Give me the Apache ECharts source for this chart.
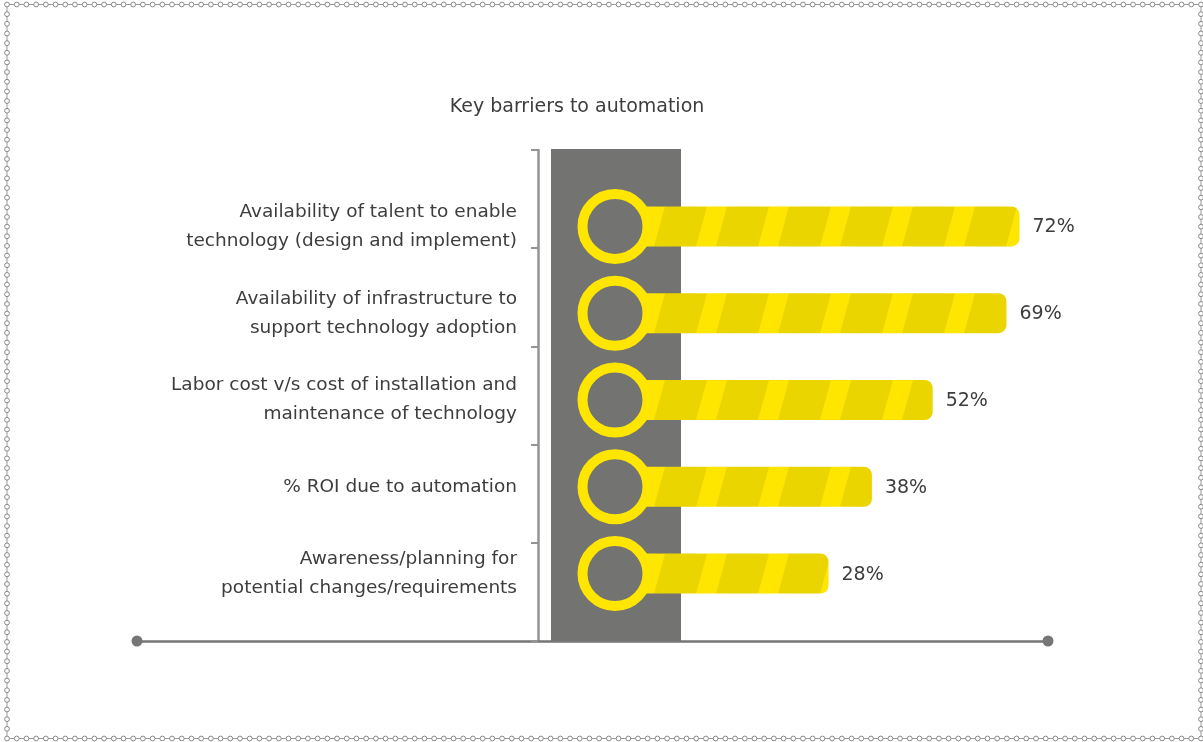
<!DOCTYPE html>
<html>
<head>
<meta charset="utf-8">
<script src="https://cdn.jsdelivr.net/npm/echarts@6/dist/echarts.min.js"></script>
<style>
  html, body { margin: 0; padding: 0; background: #fff; }
  #chart { width: 1203px; height: 742px; }
</style>
</head>
<body>
<div id="chart"></div>
<script>
// data
const titleText = 'Key barriers to automation';
const categories = [
  'Availability of talent to enable\ntechnology (design and implement)',
  'Availability of infrastructure to\nsupport technology adoption',
  'Labor cost v/s cost of installation and\nmaintenance of technology',
  '% ROI due to automation',
  'Awareness/planning for\npotential changes/requirements'
];
const values = [72, 69, 52, 38, 28];
const frameSlots = ['', '', '', '', '']; // decorative axis ticks

const YELLOW = '#FFE600';
const YELLOW_DARK = '#EBD500';
const GREY = '#737371';
const TEXT = '#3d3d3d';
const FONT = '"DejaVu Sans", sans-serif';

// striped tile for bars
const tile = document.createElement('canvas');
tile.width = 62;
tile.height = 40;
const g = tile.getContext('2d');
g.fillStyle = YELLOW_DARK;
g.fillRect(0, 0, 62, 40);
g.fillStyle = YELLOW;
[-62, 0, 62].forEach(dx => {
  g.beginPath();
  g.moveTo(30 + dx, 0);
  g.lineTo(50 + dx, 0);
  g.lineTo(39 + dx, 40);
  g.lineTo(19 + dx, 40);
  g.closePath();
  g.fill();
});

function renderBar(params, api) {
  const idx = api.value(1);
  const end = api.coord([api.value(0), idx]);
  const zero = api.coord([0, idx]);
  const cx = zero[0] - 92;
  const cy = end[1];
  const h = 40;
  return {
    type: 'group',
    children: [
      {
        type: 'rect',
        shape: { x: cx, y: cy - h / 2, width: end[0] - cx, height: h, r: [0, 8, 8, 0] },
        style: { fill: { image: tile, repeat: 'repeat', x: cx, y: cy - h / 2 } }
      },
      {
        type: 'circle',
        shape: { cx: cx, cy: cy, r: 32.5 },
        style: { fill: GREY, stroke: YELLOW, lineWidth: 10 }
      },
      {
        type: 'text',
        style: {
          text: api.value(0) + '%', x: end[0] + 13, y: cy + 1,
          verticalAlign: 'middle', fill: TEXT, fontSize: 19, fontFamily: FONT
        }
      }
    ]
  };
}

// dotted chain frame
function chainFrame() {
  const els = [];
  const x0 = 7, y0 = 4.5, x1 = 1201, y1 = 738.5;
  els.push({
    type: 'rect', silent: true, z: 0,
    shape: { x: x0, y: y0, width: x1 - x0, height: y1 - y0 },
    style: { fill: 'none', stroke: '#9a9a9a', lineWidth: 1 }
  });
  const nx = 123, ny = 76;
  const pts = [];
  for (let i = 0; i <= nx; i++) {
    const x = x0 + (x1 - x0) * i / nx;
    pts.push([x, y0], [x, y1]);
  }
  for (let j = 1; j < ny; j++) {
    const y = y0 + (y1 - y0) * j / ny;
    pts.push([x0, y], [x1, y]);
  }
  pts.forEach(p => els.push({
    type: 'circle', silent: true, z: 1,
    shape: { cx: p[0], cy: p[1], r: 2.4 },
    style: { fill: '#fff', stroke: '#888', lineWidth: 1 }
  }));
  return els;
}

const chart = echarts.init(document.getElementById('chart'), null, { renderer: 'canvas' });
chart.setOption({
  animation: false,
  backgroundColor: '#fff',
  title: {
    text: titleText,
    left: 572,
    top: 93,
    textAlign: 'center',
    textStyle: { color: TEXT, fontSize: 19, fontWeight: 'normal', fontFamily: FONT }
  },
  graphic: [
    {
      type: 'rect', z: -10,
      shape: { x: 551, y: 149, width: 130, height: 492 },
      style: { fill: GREY }
    }
  ].concat(chainFrame()),
  grid: [
    { left: 707, right: 62, top: 183, height: 434 },
    { left: 137, right: 155, top: 150, bottom: 101 }
  ],
  xAxis: [
    { gridIndex: 0, type: 'value', min: 0, max: 100, show: false },
    {
      gridIndex: 1, type: 'value', min: -401, max: 510,
      axisLine: {
        show: true, symbol: ['circle', 'circle'], symbolSize: [11, 11],
        lineStyle: { color: '#767676', width: 2.5 }
      },
      axisTick: { show: false }, axisLabel: { show: false }, splitLine: { show: false }
    }
  ],
  yAxis: [
    {
      gridIndex: 0, type: 'category', inverse: true, data: categories,
      axisLine: { show: false }, axisTick: { show: false },
      axisLabel: {
        margin: 190, color: TEXT, fontSize: 18.5, lineHeight: 29,
        fontFamily: FONT, align: 'right', padding: [0, 0, 4, 0]
      }
    },
    {
      gridIndex: 1, type: 'category', data: frameSlots,
      axisLine: { show: true, onZero: true, lineStyle: { color: '#949494', width: 2.5 } },
      axisTick: { show: true, length: 7, lineStyle: { color: '#949494', width: 2 } },
      axisLabel: { show: false }
    }
  ],
  series: [
    {
      type: 'custom',
      xAxisIndex: 0, yAxisIndex: 0,
      renderItem: renderBar,
      encode: { x: 0, y: 1 },
      data: values.map((v, i) => [v, i]),
      z: 5
    }
  ]
});
</script>
</body>
</html>
